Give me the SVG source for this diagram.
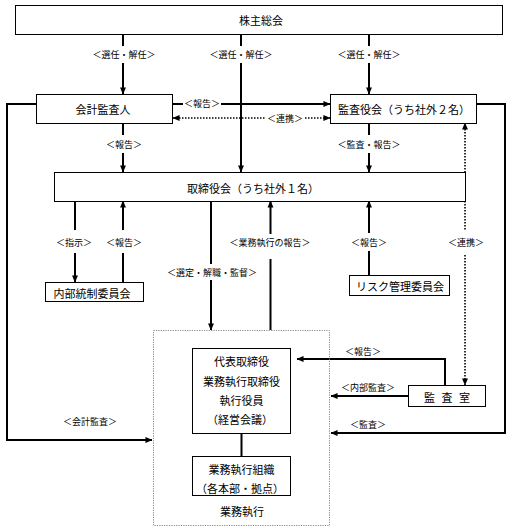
<svg xmlns="http://www.w3.org/2000/svg" width="511" height="531" viewBox="0 0 511 531">
<style>
  text { font-family: "Noto Sans CJK JP", sans-serif; fill: #000; text-anchor: middle; dominant-baseline: central; }
  .t { font-size: 11px; }
  .l { font-size: 9px; }
  .box { fill: #fff; stroke: #000; stroke-width: 1; }
  .dbox { fill: none; stroke: #888; stroke-width: 1; stroke-dasharray: 1.2 1.2; }
  .c { fill: none; stroke: #000; stroke-width: 2; }
  .d { fill: none; stroke: #000; stroke-width: 1.6; stroke-dasharray: 1.5 1.5; }
  .a { marker-end: url(#ah); }
  .as { marker-start: url(#ah); }
</style>
<defs>
  <marker id="ah" viewBox="0 0 8 8" refX="7.5" refY="4" markerWidth="7" markerHeight="7" orient="auto-start-reverse" markerUnits="userSpaceOnUse">
    <path d="M0,0.6 L8,4 L0,7.4 z" fill="#000"/>
  </marker>
</defs>

<g id="connectors">
  <!-- from 株主総会 -->
  <line class="c" x1="123" y1="34" x2="123" y2="46"/>
  <line class="c a" x1="123" y1="63" x2="123" y2="94"/>
  <line class="c" x1="241" y1="34" x2="241" y2="46"/>
  <line class="c a" x1="241" y1="63" x2="241" y2="172"/>
  <line class="c" x1="369" y1="34" x2="369" y2="46"/>
  <line class="c a" x1="369" y1="63" x2="369" y2="94"/>
  <text class="l" x="124" y="54">＜選任・解任＞</text>
  <text class="l" x="241" y="54">＜選任・解任＞</text>
  <text class="l" x="369" y="54">＜選任・解任＞</text>

  <!-- 会計監査人 -> 監査役会 報告 -->
  <line class="c" x1="173" y1="104" x2="183" y2="104"/>
  <line class="c a" x1="221" y1="104" x2="330" y2="104"/>
  <text class="l" x="202" y="103">＜報告＞</text>
  <!-- 連携 dotted -->
  <line class="d as" x1="173" y1="118" x2="265" y2="118"/>
  <line class="d a" x1="305" y1="118" x2="330" y2="118"/>
  <text class="l" x="285" y="118">＜連携＞</text>

  <!-- to 取締役会 -->
  <line class="c" x1="123" y1="123" x2="123" y2="135"/>
  <line class="c a" x1="123" y1="153" x2="123" y2="172"/>
  <text class="l" x="124" y="144">＜報告＞</text>
  <line class="c" x1="369" y1="123" x2="369" y2="135"/>
  <line class="c a" x1="369" y1="153" x2="369" y2="172"/>
  <text class="l" x="369" y="144">＜監査・報告＞</text>

  <!-- left big loop -->
  <polyline class="c a" points="36,104 7,104 7,440 152,440"/>
  <text class="l" x="90" y="421">＜会計監査＞</text>
  <!-- right big loop -->
  <polyline class="c a" points="477,104 505,104 505,433 331,433"/>
  <text class="l" x="368" y="424">＜監査＞</text>

  <!-- 内部統制委員会 -->
  <line class="c" x1="75" y1="201" x2="75" y2="230"/>
  <line class="c a" x1="75" y1="253" x2="75" y2="282"/>
  <text class="l" x="74" y="242">＜指示＞</text>
  <line class="c" x1="123" y1="282" x2="123" y2="253"/>
  <line class="c a" x1="123" y1="230" x2="123" y2="201"/>
  <text class="l" x="124" y="242">＜報告＞</text>

  <!-- 選定・解職・監督 -->
  <line class="c" x1="211" y1="201" x2="211" y2="264"/>
  <line class="c a" x1="211" y1="280" x2="211" y2="330"/>
  <text class="l" x="212" y="272">＜選定・解職・監督＞</text>
  <!-- 業務執行の報告 -->
  <line class="c" x1="270.5" y1="330" x2="270.5" y2="259"/>
  <line class="c a" x1="270.5" y1="234" x2="270.5" y2="201"/>
  <text class="l" x="270" y="242">＜業務執行の報告＞</text>

  <!-- リスク管理委員会 -->
  <line class="c" x1="369" y1="275" x2="369" y2="251"/>
  <line class="c a" x1="369" y1="233" x2="369" y2="201"/>
  <text class="l" x="369" y="242">＜報告＞</text>

  <!-- 連携 vertical dotted -->
  <line class="d as" x1="465" y1="123" x2="465" y2="230"/>
  <line class="d a" x1="465" y1="255" x2="465" y2="385"/>
  <text class="l" x="466" y="242">＜連携＞</text>

  <!-- 監査室 -->
  <polyline class="c a" points="445,385 445,359 297,359"/>
  <text class="l" x="363" y="351">＜報告＞</text>
  <line class="c a" x1="408" y1="396" x2="331" y2="396"/>
  <text class="l" x="368" y="387">＜内部監査＞</text>

  <!-- inner link -->
  <line class="c" x1="241.5" y1="433" x2="241.5" y2="456"/>
</g>

<g id="node-kabunushi">
  <rect class="box" x="15.5" y="5.5" width="487" height="29"/>
  <text class="t" x="261" y="20">株主総会</text>
</g>
<g id="node-kaikei">
  <rect class="box" x="36.5" y="94.5" width="136" height="29"/>
  <text class="t" x="103" y="109">会計監査人</text>
</g>
<g id="node-kansayakukai">
  <rect class="box" x="330.5" y="94.5" width="146" height="29"/>
  <text class="t" x="404" y="109">監査役会（うち社外２名）</text>
</g>
<g id="node-torishimariyakukai">
  <rect class="box" x="54.5" y="172.5" width="411" height="29"/>
  <text class="t" x="253" y="188">取締役会（うち社外１名）</text>
</g>
<g id="node-naibutousei">
  <rect class="box" x="45.5" y="282.5" width="98" height="19"/>
  <text class="t" x="92" y="292.5">内部統制委員会</text>
</g>
<g id="node-risk">
  <rect class="box" x="349.5" y="275.5" width="100" height="20"/>
  <text class="t" x="400" y="285.5">リスク管理委員会</text>
</g>
<g id="node-gyoumushikkou">
  <rect class="dbox" x="153.5" y="330.5" width="176" height="195"/>
  <text class="t" x="242" y="511">業務執行</text>
</g>
<g id="node-daihyou">
  <rect class="box" x="192.5" y="348.5" width="98" height="85"/>
  <text class="t" x="241.5" y="361">代表取締役</text>
  <text class="t" x="241.5" y="381">業務執行取締役</text>
  <text class="t" x="241.5" y="400">執行役員</text>
  <text class="t" x="240" y="419">（経営会議）</text>
</g>
<g id="node-soshiki">
  <rect class="box" x="192.5" y="456.5" width="98" height="39"/>
  <text class="t" x="241.5" y="469">業務執行組織</text>
  <text class="t" x="240" y="488">（各本部・拠点）</text>
</g>
<g id="node-kansashitsu">
  <rect class="box" x="408.5" y="385.5" width="77" height="21"/>
  <text class="t" x="448" y="396.5" xml:space="preserve" letter-spacing="2">監 査 室</text>
</g>
</svg>
